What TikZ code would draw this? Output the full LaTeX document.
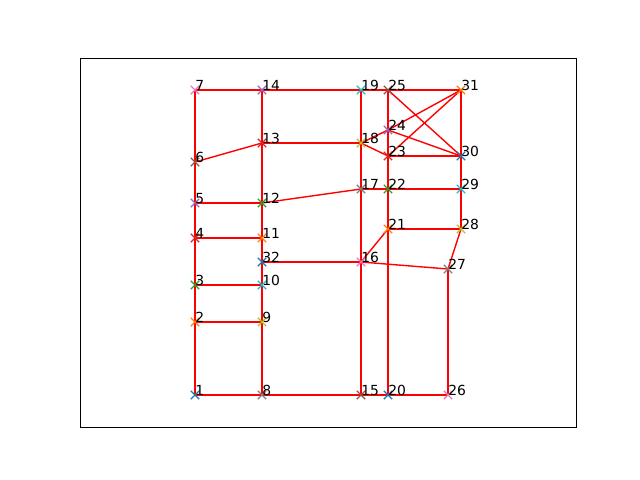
\documentclass[tikz,border=0pt]{standalone}
\usepackage{fontspec}
\setmainfont{DejaVu Sans}
\definecolor{c0}{HTML}{1F77B4}
\definecolor{c1}{HTML}{FF7F0E}
\definecolor{c2}{HTML}{2CA02C}
\definecolor{c3}{HTML}{D62728}
\definecolor{c4}{HTML}{9467BD}
\definecolor{c5}{HTML}{8C564B}
\definecolor{c6}{HTML}{E377C2}
\definecolor{c7}{HTML}{7F7F7F}
\definecolor{c8}{HTML}{BCBD22}
\definecolor{c9}{HTML}{17BECF}
\tikzset{
  edge/.style={draw=red, line width=1pt},
  lbl/.style={anchor=base west, inner sep=0pt, font=\fontsize{10}{12}\selectfont},
}
\newcommand{\xmark}[2]{%
  \draw[#2, line width=0.9pt] ($(#1)+(-3pt,-3pt)$) -- ($(#1)+(3pt,3pt)$);
  \draw[#2, line width=0.9pt] ($(#1)+(-3pt,3pt)$) -- ($(#1)+(3pt,-3pt)$);
}
\usetikzlibrary{calc}
\begin{document}
\begin{tikzpicture}[x=0.72pt,y=-0.72pt]
\useasboundingbox (0,0) rectangle (640,480);
\draw[line width=0.6pt] (80.5,58.5) rectangle (576,427);
\foreach \n/\x/\y in {1/195/395,2/195/322,3/195/285,4/195/238,5/195/203,6/195/162,7/195/90,
 8/262/395,9/262/322,10/262/285,11/262/238,12/262/203,13/262/143,14/262/90,
 15/361/395,16/361/262,17/361/189,18/361/143,19/361/90,
 20/388/395,21/388/229,22/388/189,23/388/156,24/388/130,25/388/90,
 26/448/395,27/448/269,28/461/229,29/461/189,30/461/156,31/461/90,32/262/262}
 { \coordinate (p\n) at (\x,\y); }
\foreach \a/\b in {1/8,8/15,15/20,20/26,1/2,2/3,3/4,4/5,5/6,6/7,7/14,14/19,19/25,25/31,
 8/9,9/10,10/32,32/11,11/12,12/13,13/14,2/9,3/10,4/11,5/12,6/13,13/18,12/17,32/16,
 15/16,16/17,17/18,18/19,20/21,21/22,22/23,23/24,24/25,16/21,16/27,21/28,17/22,22/29,
 18/23,18/24,23/30,24/30,25/30,24/31,23/31,31/30,30/29,29/28,28/27,27/26}
 { \draw[edge] (p\a) -- (p\b); }
\foreach \n/\c in {1/c0,2/c1,3/c2,4/c3,5/c4,6/c5,7/c6,8/c7,9/c8,10/c9,32/c0,
 11/c1,12/c2,13/c3,14/c4,15/c5,16/c6,17/c7,18/c8,19/c9,20/c0,21/c1,22/c2,23/c3,
 24/c4,25/c5,26/c6,27/c7,28/c8,29/c9,30/c0,31/c1}
 { \xmark{p\n}{\c} \node[lbl] (l\n) at (p\n) {\n}; }
\end{tikzpicture}
\end{document}
